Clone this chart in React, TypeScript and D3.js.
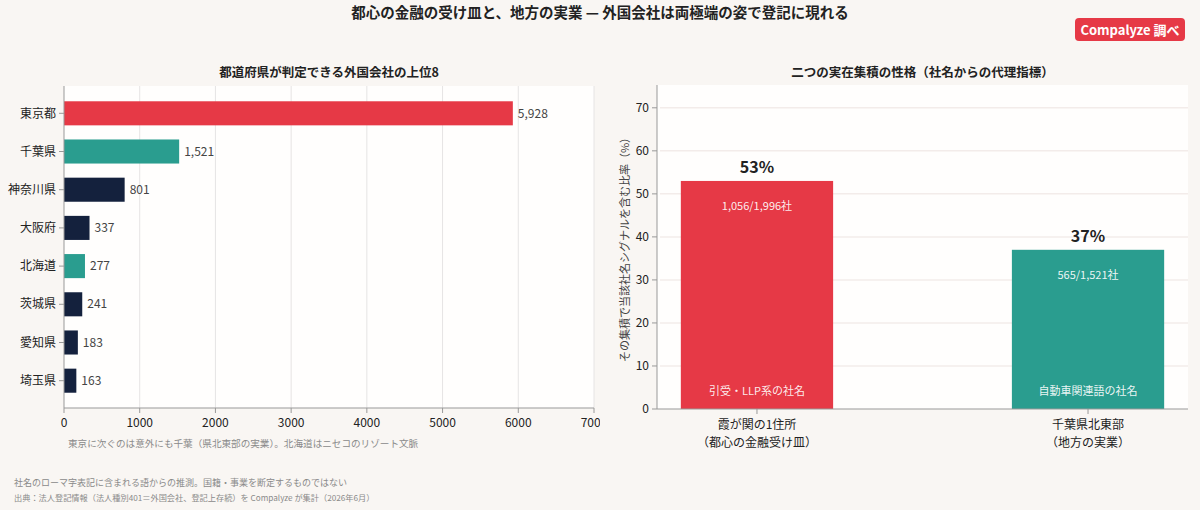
// 外国会社の登記: 都道府県別の上位8 (左) と二つの集積の社名シグナル比率 (右)
import * as d3 from "d3";

const prefectures = ["東京都", "千葉県", "神奈川県", "大阪府", "北海道", "茨城県", "愛知県", "埼玉県"];
const prefCounts = [5928, 1521, 801, 337, 277, 241, 183, 163];
const prefHighlight = ["red", "teal", "navy", "navy", "teal", "navy", "navy", "navy"];
const countTicks = [0, 1000, 2000, 3000, 4000, 5000, 6000, 7000];

const clusters = ["kasumigaseki", "chiba"];
const clusterLabels = [
  ["霞が関の1住所", "（都心の金融受け皿）"],
  ["千葉県北東部", "（地方の実業）"],
];
const clusterShare = [53, 37];
const clusterCounts = ["1,056/1,996社", "565/1,521社"];
const clusterSignal = ["引受・LLP系の社名", "自動車関連語の社名"];
const clusterColor = ["red", "teal"];
const shareTicks = [0, 10, 20, 30, 40, 50, 60, 70];

const W = 1200;
const H = 510;
const FONT = "'Noto Sans CJK JP', 'Noto Sans', sans-serif";
const C = {
  bg: "#f9f6f3",
  plot: "#fffefd",
  red: "#e63946",
  teal: "#2a9d8f",
  navy: "#14213d",
  ink: "#222",
  dim: "#444",
  faint: "#8a8a8a",
  grid: "#e6e4e4",
  grid2: "#f3ecea",
  axis: "#999",
} as Record<string, string>;

const fmt = d3.format(",");

function LeftChart() {
  const m = { left: 64, right: 594, top: 86, bottom: 408 };
  const x = d3.scaleLinear().domain([0, 7000]).range([m.left, m.right]);
  const y = d3.scaleBand<string>().domain(prefectures).range([m.top, m.bottom]).paddingInner(0.37).paddingOuter(0.4);
  return (
    <g clipPath="url(#leftPanel)">
      <rect x={m.left} y={m.top} width={m.right - m.left} height={m.bottom - m.top} fill={C.plot} />
      <text x={(m.left + m.right) / 2} y={77} textAnchor="middle" fontSize={12.5} fontWeight={700} fill={C.ink}>
        都道府県が判定できる外国会社の上位8
      </text>
      {countTicks.map((t) => (
        <g key={t}>
          {t > 0 && <line x1={x(t)} x2={x(t)} y1={m.top} y2={m.bottom} stroke={C.grid} strokeWidth={1} />}
          <line x1={x(t)} x2={x(t)} y1={m.bottom} y2={m.bottom + 5} stroke={C.axis} />
          <text x={x(t)} y={m.bottom + 19} textAnchor="middle" fontSize={12} fill={C.ink}>
            {t}
          </text>
        </g>
      ))}
      {prefectures.map((p, i) => {
        const yy = y(p)!;
        const cy = yy + y.bandwidth() / 2;
        return (
          <g key={p}>
            <rect x={x(0)} y={yy} width={x(prefCounts[i]) - x(0)} height={y.bandwidth()} fill={C[prefHighlight[i]]} />
            <text x={x(prefCounts[i]) + 5} y={cy} dy="0.35em" fontSize={12} fill={C.dim}>
              {fmt(prefCounts[i])}
            </text>
            <line x1={m.left - 5} x2={m.left} y1={cy} y2={cy} stroke={C.axis} />
            <text x={m.left - 8} y={cy} dy="0.35em" textAnchor="end" fontSize={12} fill={C.ink}>
              {p}
            </text>
          </g>
        );
      })}
      <line x1={m.left} x2={m.left} y1={m.top} y2={m.bottom} stroke={C.axis} />
      <line x1={m.left} x2={m.right} y1={m.bottom} y2={m.bottom} stroke={C.axis} />
      <text x={68} y={447} fontSize={9.6} fill={C.faint}>
        東京に次ぐのは意外にも千葉（県北東部の実業）。北海道はニセコのリゾート文脈
      </text>
    </g>
  );
}

function RightChart() {
  const m = { left: 657, right: 1188, top: 85, bottom: 409 };
  const y = d3.scaleLinear().domain([0, 75.3]).range([m.bottom, m.top]);
  const x = d3.scaleBand<string>().domain(clusters).range([m.left, m.right]).paddingInner(0.54).paddingOuter(0.072);
  return (
    <g>
      <rect x={m.left} y={m.top} width={m.right - m.left} height={m.bottom - m.top} fill={C.plot} />
      <text x={(m.left + m.right) / 2} y={77} textAnchor="middle" fontSize={12.5} fontWeight={700} fill={C.ink}>
        二つの実在集積の性格（社名からの代理指標）
      </text>
      {shareTicks.map((t) => (
        <g key={t}>
          {t > 0 && <line x1={m.left + 3} x2={m.right} y1={y(t)} y2={y(t)} stroke={C.grid2} strokeWidth={1.5} />}
          <line x1={m.left - 5} x2={m.left} y1={y(t)} y2={y(t)} stroke={C.axis} />
          <text x={m.left - 8} y={y(t)} dy="0.35em" textAnchor="end" fontSize={12} fill={C.ink}>
            {t}
          </text>
        </g>
      ))}
      {clusters.map((c, i) => {
        const xx = x(c)!;
        const cx = xx + x.bandwidth() / 2;
        const top = y(clusterShare[i]);
        return (
          <g key={c}>
            <rect x={xx} y={top} width={x.bandwidth()} height={y(0) - top} fill={C[clusterColor[i]]} />
            <text x={cx} y={top - 8} textAnchor="middle" fontSize={16} fontWeight={700} fill={C.ink}>
              {clusterShare[i]}%
            </text>
            <text x={cx} y={top + 29} textAnchor="middle" fontSize={11} fill="#fff" fillOpacity={0.92}>
              {clusterCounts[i]}
            </text>
            <text x={cx} y={m.bottom - 14} textAnchor="middle" fontSize={11} fill="#fff" fillOpacity={0.92}>
              {clusterSignal[i]}
            </text>
            <line x1={cx} x2={cx} y1={m.bottom} y2={m.bottom + 5} stroke={C.axis} />
            {clusterLabels[i].map((l, j) => (
              <text key={j} x={cx} y={m.bottom + 20 + j * 18} textAnchor="middle" fontSize={12} fill={C.ink}>
                {l}
              </text>
            ))}
          </g>
        );
      })}
      <line x1={m.left} x2={m.left} y1={m.top} y2={m.bottom} stroke={C.axis} />
      <line x1={m.left} x2={m.right} y1={m.bottom} y2={m.bottom} stroke={C.axis} />
      <text
        transform={`translate(629,${(m.top + m.bottom) / 2}) rotate(-90)`}
        textAnchor="middle"
        fontSize={11}
        fill={C.dim}
      >
        その集積で当該社名シグナルを含む比率（%）
      </text>
    </g>
  );
}

export default function App() {
  return (
    <svg
      width={W}
      height={H}
      viewBox={`0 0 ${W} ${H}`}
      style={{ position: "absolute", left: 0, top: 0, display: "block" }}
      fontFamily={FONT}
    >
      <defs>
        <clipPath id="leftPanel">
          <rect x={0} y={0} width={600} height={470} />
        </clipPath>
      </defs>
      <rect width={W} height={H} fill={C.bg} />
      <text x={W / 2} y={18} textAnchor="middle" fontSize={14.5} fontWeight={700} fill={C.ink}>
        都心の金融の受け皿と、地方の実業 — 外国会社は両極端の姿で登記に現れる
      </text>
      <rect x={1075} y={18} width={110} height={23} rx={4} fill={C.red} />
      <text x={1130} y={30} dy="0.35em" textAnchor="middle" fontSize={13} fontWeight={700} fill="#fff">
        Compalyze 調べ
      </text>
      <LeftChart />
      <RightChart />
      <text x={14} y={486} fontSize={9} fill={C.faint}>
        社名のローマ字表記に含まれる語からの推測。国籍・事業を断定するものではない
      </text>
      <text x={14} y={501} fontSize={8.2} fill={C.faint}>
        出典：法人登記情報（法人種別401＝外国会社、登記上存続）を Compalyze が集計（2026年6月）
      </text>
    </svg>
  );
}
